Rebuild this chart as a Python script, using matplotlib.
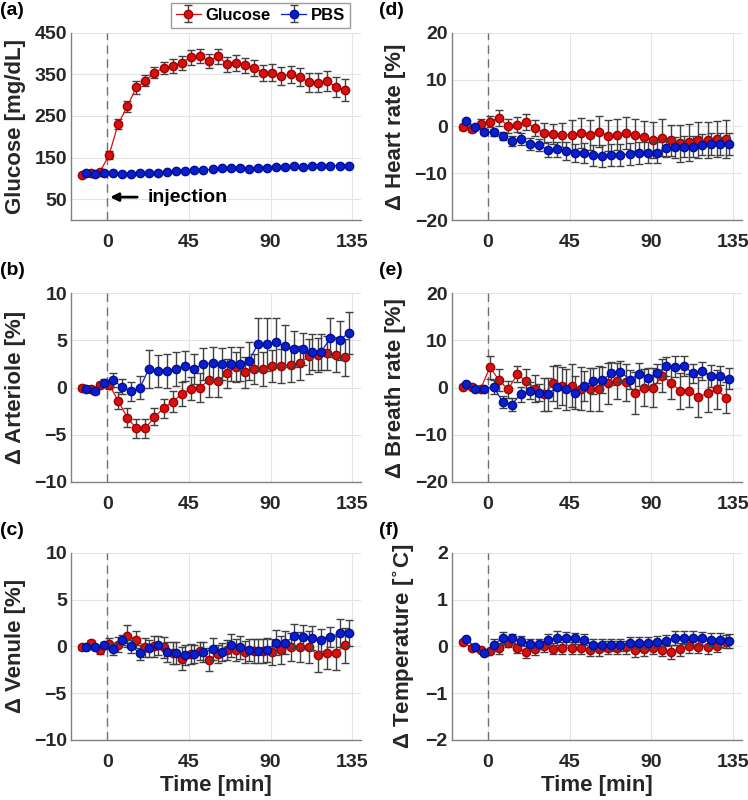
import numpy as np
import matplotlib.pyplot as plt

plt.rcParams['font.family'] = ['Liberation Sans', 'DejaVu Sans']
plt.rcParams['font.weight'] = 'bold'
plt.rcParams['mathtext.default'] = 'bf'

# time points [min]
t_glu = [-14, -9, -4, 1, 6, 11, 16, 21, 26, 31, 36, 41, 46, 51, 56,
         61, 66, 71, 76, 81, 86, 91, 96, 101, 106, 111, 116, 121, 126, 131]
t_pbs = [-12, -7, -2, 3, 8, 13, 18, 23, 28, 33, 38, 43, 48, 53, 58,
         63, 68, 73, 78, 83, 88, 93, 98, 103, 108, 113, 118, 123, 128, 133]

# (a) glucose [mg/dL]
a_glu = [108, 114, 116, 157, 231, 273, 319, 335, 354, 366, 370, 378, 391, 394, 382,
         394, 374, 378, 372, 366, 354, 354, 346, 350, 344, 331, 330, 334, 320, 313]
a_glu_err = [3, 3, 3, 10, 12, 13, 15, 14, 13, 14, 16, 17, 18, 17, 17,
             18, 18, 19, 18, 19, 19, 20, 22, 20, 22, 23, 23, 25, 24, 27]
a_pbs = [112, 110, 114, 113, 111, 111, 113, 113, 112, 115, 117, 118, 120, 120, 122,
         124, 124, 124, 122, 125, 126, 127, 127, 131, 127, 130, 130, 131, 131, 131]
a_pbs_err = [3, 3, 3, 3, 3, 3, 3, 3, 3, 3, 3, 3, 3, 3, 3,
             3, 3, 3, 3, 3, 3, 3, 3, 3, 3, 3, 3, 3, 3, 3]

# (b) arteriole [%]
b_glu = [0.0, -0.2, 0.3, 0.3, -1.4, -3.2, -4.3, -4.3, -3.1, -2.2, -1.5, -0.7, -0.1, 0.0, 0.8,
         0.7, 1.5, 2.2, 1.6, 2.0, 2.0, 2.3, 2.3, 2.4, 2.6, 3.3, 3.5, 3.7, 3.5, 3.2]
b_glu_err = [0.3, 0.3, 0.3, 0.4, 0.9, 1.0, 1.0, 1.0, 0.9, 1.0, 1.1, 1.3, 1.2, 1.5, 1.8,
             1.7, 1.5, 1.6, 1.6, 1.6, 1.8, 1.7, 1.8, 1.8, 1.8, 1.9, 1.8, 1.8, 1.9, 2.0]
b_pbs = [-0.1, -0.4, 0.5, 0.8, 0.1, -0.4, 0.0, 2.0, 1.8, 1.8, 2.0, 2.3, 2.0, 2.5, 2.6,
         2.5, 2.5, 2.5, 2.8, 4.6, 4.6, 4.8, 4.4, 4.1, 4.1, 3.8, 3.8, 5.3, 5.0, 5.8]
b_pbs_err = [0.3, 0.3, 0.4, 0.7, 0.8, 1.0, 1.2, 2.0, 1.7, 1.8, 1.8, 1.6, 1.6, 1.7, 1.7,
             1.7, 1.8, 1.8, 2.0, 2.8, 2.8, 2.6, 2.2, 1.9, 1.7, 1.9, 1.9, 2.1, 2.1, 2.2]

# (c) venule [%]
c_glu = [-0.1, 0.4, -0.4, 0.3, 0.2, 1.1, 0.7, -0.1, 0.0, -0.1, -0.7, -1.3, -0.8, -0.5, -1.4,
         -0.8, -0.4, -0.4, -0.6, -0.5, -0.5, -0.6, -0.4, -0.1, -0.1, -0.1, -0.9, -0.7, -0.7, 0.1]
c_glu_err = [0.3, 0.3, 0.4, 0.6, 0.8, 1.2, 0.9, 1.0, 1.1, 1.1, 1.2, 1.2, 1.1, 1.0, 1.2,
             1.0, 1.1, 1.2, 1.2, 1.3, 1.3, 1.4, 1.5, 1.5, 1.6, 1.7, 1.8, 1.7, 1.8, 1.9]
c_pbs = [-0.1, -0.1, 0.1, -0.3, 0.7, 0.0, -0.7, -0.2, 0.1, -0.6, -0.7, -0.9, -0.8, -0.6, -0.3,
         -0.6, 0.1, -0.1, -0.4, -0.5, -0.4, 0.4, 0.4, 1.1, 1.0, 0.9, 0.7, 1.0, 1.4, 1.4]
c_pbs_err = [0.3, 0.3, 0.4, 0.6, 0.5, 0.7, 0.8, 0.9, 1.0, 1.1, 1.2, 1.1, 1.0, 1.1, 1.2,
             1.0, 1.2, 1.2, 1.2, 1.3, 1.3, 1.3, 1.2, 1.3, 1.3, 1.3, 1.2, 1.1, 1.5, 1.4]

# (d) heart rate [%]
d_glu = [-0.1, -0.6, 0.6, 1.0, 1.8, 0.1, 0.4, 0.9, -0.4, -1.4, -1.6, -1.8, -1.8, -1.4, -1.8,
         -1.1, -2.0, -1.8, -1.4, -1.9, -2.3, -2.9, -2.4, -3.0, -3.6, -3.4, -2.9, -2.9, -2.7, -2.7]
d_glu_err = [0.6, 0.6, 0.9, 1.2, 1.7, 1.5, 1.7, 1.7, 1.7, 2.2, 2.1, 2.6, 3.2, 3.3, 3.2,
             3.3, 3.3, 3.3, 3.5, 3.4, 3.5, 3.8, 3.9, 3.4, 4.0, 3.9, 3.9, 3.8, 3.9, 4.0]
d_pbs = [1.1, -0.1, -1.1, -1.3, -2.1, -3.1, -2.7, -3.8, -4.0, -5.0, -4.9, -5.2, -5.7, -5.7, -6.2,
         -6.3, -6.1, -6.1, -5.9, -5.7, -5.6, -5.6, -4.6, -4.5, -4.3, -4.3, -3.9, -3.8, -3.8, -3.8]
d_pbs_err = [0.5, 0.5, 0.6, 0.7, 0.9, 1.0, 1.2, 1.3, 1.3, 1.6, 1.6, 1.9, 2.0, 2.1, 2.3,
             2.3, 2.3, 2.3, 2.3, 2.3, 2.2, 2.2, 2.0, 2.2, 2.3, 2.3, 2.3, 2.4, 2.4, 2.4]

# (e) breath rate [%]
e_glu = [0.2, 0.2, -0.2, 4.3, 1.6, -0.4, 2.8, 1.4, -0.2, -1.4, 0.9, 0.4, 0.4, -0.2, -0.4,
         -0.2, 0.9, 1.4, 1.1, -1.1, 0.0, 0.0, 2.5, 1.0, -0.7, -0.7, -2.0, -1.2, -0.4, -2.1]
e_glu_err = [0.5, 0.5, 0.5, 2.5, 2.3, 1.8, 1.7, 2.5, 2.8, 3.5, 3.7, 4.0, 4.5, 4.6, 4.6,
             4.8, 4.3, 3.8, 4.0, 4.5, 4.0, 4.2, 3.5, 3.5, 3.8, 3.5, 4.2, 4.0, 4.2, 3.2]
e_pbs = [0.7, -0.2, -0.3, 0.2, -3.0, -3.6, -1.4, -0.7, -1.1, -1.4, 0.2, -0.4, -1.1, 0.4, 1.4,
         1.6, 3.0, 3.4, 1.7, 2.8, 2.1, 3.0, 4.5, 4.4, 4.6, 3.0, 3.5, 2.5, 2.5, 1.9]
e_pbs_err = [0.5, 0.4, 0.4, 1.5, 1.3, 1.4, 1.6, 1.8, 1.8, 3.5, 4.5, 4.3, 3.5, 3.2, 2.8,
             2.8, 2.5, 2.2, 2.0, 2.5, 2.0, 2.0, 2.0, 2.2, 2.2, 2.0, 1.9, 2.3, 2.0, 2.3]

# (f) temperature [C]
f_glu = [0.10, -0.03, -0.08, -0.10, -0.04, 0.07, -0.04, -0.12, -0.06, 0.00, -0.05, -0.03, -0.03, -0.03, -0.07,
         -0.06, -0.03, -0.03, -0.02, -0.08, -0.06, -0.03, -0.07, -0.12, -0.06, 0.00, -0.01, -0.01, 0.01, 0.10]
f_glu_err = [0.03, 0.03, 0.04, 0.05, 0.12, 0.08, 0.10, 0.12, 0.12, 0.12, 0.12, 0.13, 0.13, 0.13, 0.14,
             0.14, 0.14, 0.14, 0.14, 0.14, 0.14, 0.14, 0.14, 0.15, 0.14, 0.14, 0.14, 0.15, 0.14, 0.14]
f_pbs = [0.15, -0.02, -0.15, 0.03, 0.18, 0.17, 0.12, 0.06, 0.05, 0.14, 0.18, 0.17, 0.17, 0.14, 0.04,
         0.03, 0.03, 0.03, 0.07, 0.08, 0.08, 0.10, 0.12, 0.18, 0.19, 0.18, 0.17, 0.14, 0.13, 0.11]
f_pbs_err = [0.04, 0.03, 0.04, 0.12, 0.12, 0.10, 0.10, 0.10, 0.10, 0.12, 0.14, 0.14, 0.12, 0.12, 0.12,
             0.12, 0.12, 0.13, 0.13, 0.12, 0.12, 0.12, 0.12, 0.14, 0.14, 0.14, 0.14, 0.14, 0.15, 0.15]

x_ticks = [0, 45, 90, 135]
RED = '#d81010'
BLUE = '#0a1ed0'
ERR = '#404040'

panels = [
    ('(a)', 'Glucose [mg/dL]', a_glu, a_glu_err, a_pbs, a_pbs_err, (0, 450), [50, 150, 250, 350, 450]),
    ('(b)', 'Δ Arteriole [%]', b_glu, b_glu_err, b_pbs, b_pbs_err, (-10, 10), [-10, -5, 0, 5, 10]),
    ('(c)', 'Δ Venule [%]', c_glu, c_glu_err, c_pbs, c_pbs_err, (-10, 10), [-10, -5, 0, 5, 10]),
    ('(d)', 'Δ Heart rate [%]', d_glu, d_glu_err, d_pbs, d_pbs_err, (-20, 20), [-20, -10, 0, 10, 20]),
    ('(e)', 'Δ Breath rate [%]', e_glu, e_glu_err, e_pbs, e_pbs_err, (-20, 20), [-20, -10, 0, 10, 20]),
    ('(f)', r'Δ Temperature [$^{\circ}$C]', f_glu, f_glu_err, f_pbs, f_pbs_err, (-2, 2), [-2, -1, 0, 1, 2]),
]

lefts = [0.095, 0.095, 0.095, 0.604, 0.604, 0.604]
bottoms = [0.725, 0.3975, 0.075, 0.725, 0.3975, 0.075]
width = 0.388
heights = [0.234, 0.236, 0.234, 0.234, 0.236, 0.234]

fig = plt.figure(figsize=(7.48, 8.0), dpi=100)

for i, (tag, ylab, yg, eg, yp, ep, ylim, yt) in enumerate(panels):
    ax = fig.add_axes([lefts[i], bottoms[i], width, heights[i]])
    ax.grid(True, color='#e4e4e4', linewidth=0.8)
    ax.set_axisbelow(True)
    ax.axvline(0, color='#707070', linestyle=(0, (6, 4)), linewidth=1.0, zorder=1)
    hg = ax.errorbar(t_glu, yg, yerr=eg, fmt='-o', color=RED, mfc=RED, mec='#a00000',
                     ms=6, lw=0.9, ecolor=ERR, elinewidth=1, capsize=3, capthick=1,
                     label='Glucose', zorder=3)
    hp = ax.errorbar(t_pbs, yp, yerr=ep, fmt='-o', color=BLUE, mfc=BLUE, mec='#001090',
                     ms=6, lw=0.9, ecolor=ERR, elinewidth=1, capsize=3, capthick=1,
                     label='PBS', zorder=4)
    ax.set_xlim(-20, 140)
    ax.set_ylim(*ylim)
    ax.set_xticks(x_ticks)
    ax.set_yticks(yt)
    for s in ['top', 'right']:
        ax.spines[s].set_visible(False)
    for s in ['left', 'bottom']:
        ax.spines[s].set_color('#808080')
        ax.spines[s].set_linewidth(1.0)
    ax.tick_params(length=0, labelsize=14, labelcolor='#262626')
    ax.tick_params(axis='x', pad=10)
    ax.tick_params(axis='y', pad=3)
    for lbl in ax.get_xticklabels() + ax.get_yticklabels():
        lbl.set_fontweight('bold')
    ax.set_ylabel(ylab, fontsize=16, fontweight='bold', color='#262626', labelpad=6)
    if i in (2, 5):
        ax.set_xlabel('Time [min]', fontsize=16, fontweight='bold', color='#262626', labelpad=3)
    ax.text(-0.245 if i < 3 else -0.25, 1.12, tag, transform=ax.transAxes,
            fontsize=14, fontweight='bold', va='center', ha='left')
    if i == 0:
        ax.annotate('', xy=(0, 55), xytext=(18, 55),
                    arrowprops=dict(arrowstyle='-|>', color='black', lw=2, mutation_scale=12))
        ax.text(22, 55, 'injection', fontsize=14, fontweight='bold', va='center', ha='left')
        handles = [hg, hp]

fig.legend(handles, ['Glucose', 'PBS'], loc='upper right', bbox_to_anchor=(352 / 748, 1 - 1 / 800),
           ncol=2, frameon=True, fancybox=False, edgecolor='#808080',
           handlelength=1.5, columnspacing=0.6, handletextpad=0.3, borderpad=0.3,
           borderaxespad=0.1, prop={'weight': 'bold', 'size': 12})

fig.savefig('out.png', dpi=100)
